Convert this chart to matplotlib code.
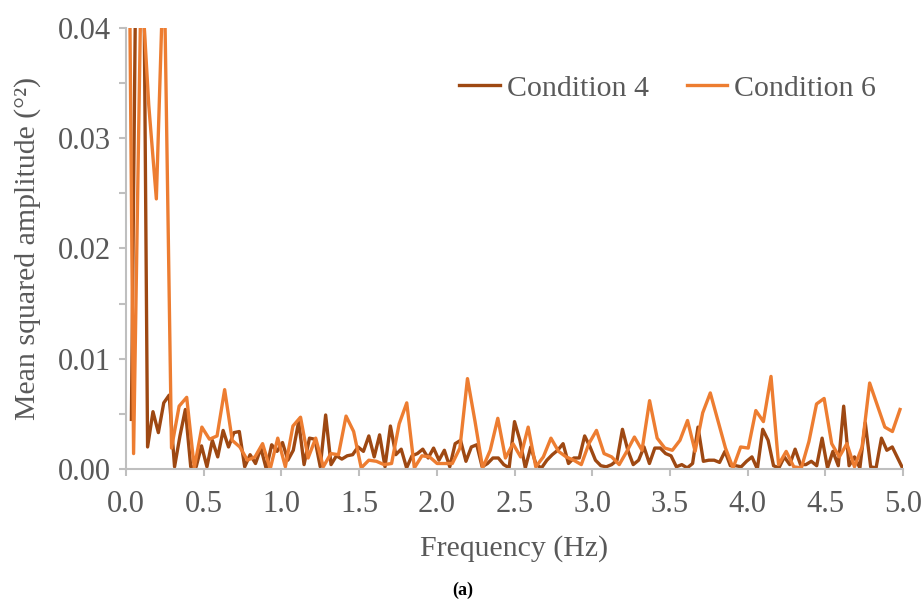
import numpy as np
import matplotlib
matplotlib.use("Agg")
import matplotlib.pyplot as plt
from matplotlib.ticker import MultipleLocator, FormatStrFormatter

# ---- data ----
df_c4 = 5 / 144          # frequency resolution, Condition 4 (Hz)
df_c6 = 100 / 2048       # frequency resolution, Condition 6 (Hz)

cond4 = [
    0.0045, 0.055, 0.065, 0.0020, 0.0052, 0.0033, 0.0060, 0.0067, 0.0002, 0.0030,
    0.0054, 0.0002, 0.0002, 0.0021, 0.0002, 0.0026, 0.0011, 0.0035, 0.0020, 0.0033,
    0.0034, 0.0002, 0.0013, 0.0005, 0.0019, 0.0000, 0.0022, 0.0016, 0.0024, 0.0008,
    0.0017, 0.0043, 0.0004, 0.0028, 0.0027, 0.0002, 0.0049, 0.0004, 0.0012, 0.0009,
    0.0012, 0.0013, 0.0020, 0.0016, 0.0030, 0.0011, 0.0031, 0.0002, 0.0039, 0.0013,
    0.0018, 0.0001, 0.0012, 0.0014, 0.0018, 0.0010, 0.0019, 0.0008, 0.0017, 0.0002,
    0.0023, 0.0026, 0.0007, 0.0020, 0.0022, 0.0002, 0.0005, 0.0010, 0.0010, 0.0004,
    0.0001, 0.0043, 0.0026, 0.0001, 0.0020, 0.0004, 0.0001, 0.0008, 0.0013, 0.0017,
    0.0023, 0.0005, 0.0010, 0.0010, 0.0030, 0.0020, 0.0008, 0.0003, 0.0002, 0.0004,
    0.0008, 0.0036, 0.0017, 0.0004, 0.0008, 0.0020, 0.0005, 0.0019, 0.0019, 0.0014,
    0.0012, 0.0002, 0.0004, 0.0001, 0.0005, 0.0038, 0.0007, 0.0008, 0.0008, 0.0006,
    0.0016, 0.0003, 0.0003, 0.0002, 0.0007, 0.0011, 0.0000, 0.0036, 0.0026, 0.0003,
    0.0001, 0.0011, 0.0004, 0.0018, 0.0004, 0.0004, 0.0007, 0.0003, 0.0028, 0.0001,
    0.0016, 0.0003, 0.0057, 0.0003, 0.0011, 0.0001, 0.0042, 0.0002, 0.0001, 0.0028,
    0.0017, 0.0020, 0.0010, 0.0000,
]

cond6 = [
    0.083, 0.0014, 0.045, 0.033, 0.0245, 0.047, 0.0019, 0.0057, 0.0065, 0.0001,
    0.0038, 0.0027, 0.0030, 0.0072, 0.0026, 0.0020, 0.0008, 0.0011, 0.0023, 0.0000,
    0.0028, 0.0002, 0.0039, 0.0047, 0.0010, 0.0028, 0.0002, 0.0014, 0.0013, 0.0048,
    0.0034, 0.0001, 0.0008, 0.0007, 0.0004, 0.0005, 0.0041, 0.0060, 0.0001, 0.0012,
    0.0011, 0.0005, 0.0005, 0.0005, 0.0019, 0.0082, 0.0043, 0.0001, 0.0017, 0.0046,
    0.0010, 0.0023, 0.0011, 0.0038, 0.0002, 0.0011, 0.0028, 0.0016, 0.0011, 0.0008,
    0.0004, 0.0023, 0.0035, 0.0014, 0.0011, 0.0004, 0.0016, 0.0029, 0.0017, 0.0062,
    0.0028, 0.0019, 0.0017, 0.0026, 0.0044, 0.0016, 0.0051, 0.0069, 0.0044, 0.0019,
    0.0001, 0.0020, 0.0019, 0.0053, 0.0043, 0.0084, 0.0004, 0.0016, 0.0002, 0.0001,
    0.0025, 0.0059, 0.0064, 0.0023, 0.0011, 0.0023, 0.0002, 0.0020, 0.0078, 0.0058,
    0.0038, 0.0034, 0.0054,
]

freq4 = np.arange(1, len(cond4) + 1) * df_c4
freq6 = np.arange(0, len(cond6)) * df_c6

labels = ["Condition 4", "Condition 6"]
colors = ["#9E4812", "#ED7D31"]

# ---- plot ----
plt.rcParams["font.family"] = ["Liberation Serif", "DejaVu Serif"]
fig = plt.figure(figsize=(9.21, 6.03), dpi=100)
ax = fig.add_axes([0.1368, 0.2222, 0.8437, 0.7314])

ax.plot(freq4, cond4, color=colors[0], lw=2.4, label=labels[0])
ax.plot(freq6, cond6, color=colors[1], lw=2.4, label=labels[1])

ax.set_xlim(0, 5.0)
ax.set_ylim(0, 0.04)
ax.xaxis.set_major_locator(MultipleLocator(0.5))
ax.xaxis.set_major_formatter(FormatStrFormatter("%.1f"))
ax.yaxis.set_major_locator(MultipleLocator(0.01))
ax.yaxis.set_minor_locator(MultipleLocator(0.005))
ax.yaxis.set_major_formatter(FormatStrFormatter("%.2f"))

grey = "#BFBFBF"
txt = "#595959"
for s in ["top", "right"]:
    ax.spines[s].set_visible(False)
for s in ["left", "bottom"]:
    ax.spines[s].set_color(grey)
    ax.spines[s].set_linewidth(1.5)
ax.tick_params(axis="both", which="both", color=grey, width=1.5, length=5,
               labelcolor=txt, labelsize=22)
ax.tick_params(axis="x", pad=10)
ax.tick_params(axis="y", pad=6)

ax.set_xlabel("Frequency (Hz)", fontsize=21.5, color=txt, labelpad=12)
ax.set_ylabel("Mean squared amplitude (°²)", fontsize=21.5, color=txt, labelpad=12)

leg = ax.legend(loc="upper right", ncol=2, frameon=False, fontsize=21.5,
                bbox_to_anchor=(1.0, 0.955), handlelength=1.35, columnspacing=1.25,
                handletextpad=0.25)
for t in leg.get_texts():
    t.set_color(txt)

fig.text(0.502, 0.006, "(a)", fontsize=13, fontweight="bold", ha="center",
         va="bottom", color="black")

fig.savefig("out.png", dpi=100)
